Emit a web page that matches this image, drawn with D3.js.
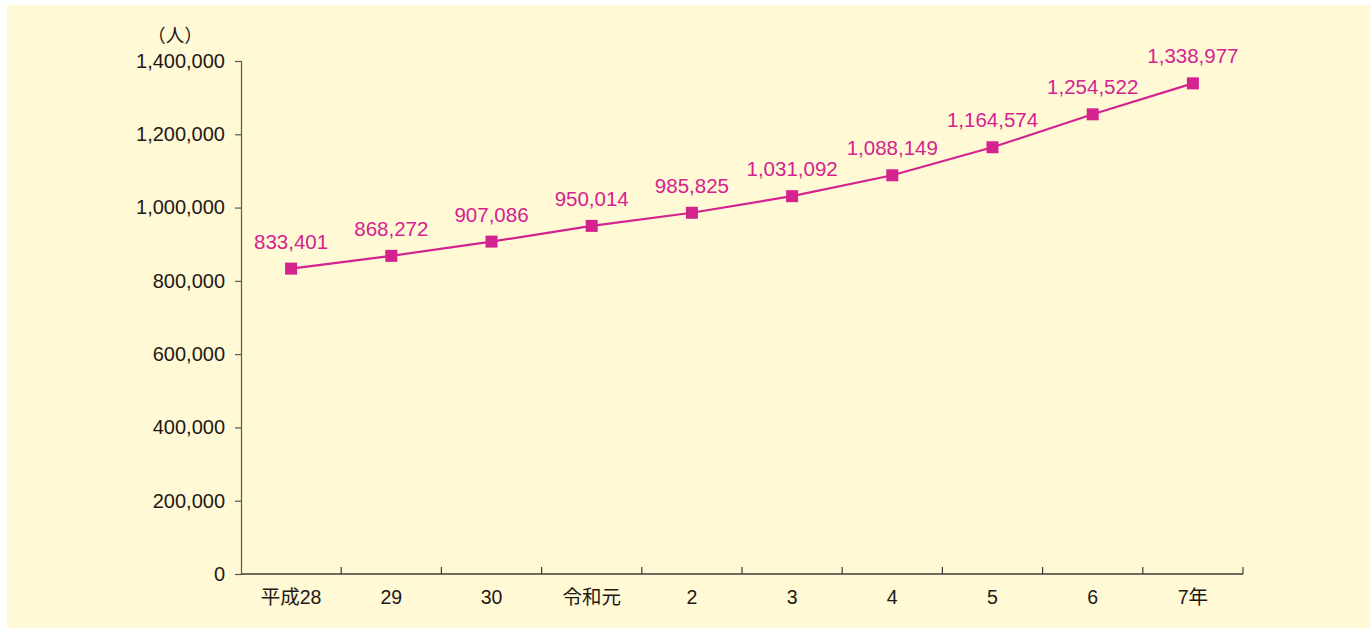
<!DOCTYPE html>
<html>
<head>
<meta charset="utf-8">
<script src="https://cdn.jsdelivr.net/npm/d3@7"></script>
<style>
  html, body { margin: 0; padding: 0; background: #ffffff; }
  svg { display: block; }
  text { font-family: "Liberation Sans", Arial, "Noto Sans CJK JP", sans-serif; }
</style>
</head>
<body>
<svg id="chart" width="1370" height="628"></svg>
<script>
// Fiscal years (Heisei 28 through Reiwa 7)
const years = ["平成28", "29", "30", "令和元", "2", "3", "4", "5", "6", "7年"];
// Number of people per year
const people = [833401, 868272, 907086, 950014, 985825, 1031092, 1088149, 1164574, 1254522, 1338977];
// Left axis ticks
const yTicks = [0, 200000, 400000, 600000, 800000, 1000000, 1200000, 1400000];

const svg = d3.select("#chart");
const W = 1370, H = 628;
const margin = { left: 241, right: 127, top: 61, bottom: 54 };
const accent = "#d4238f";
const ink = "#231815";

// cream panel
svg.append("rect").attr("x", 7).attr("y", 5).attr("width", W - 7).attr("height", H - 5)
  .attr("fill", "#fff9d6");

const x = d3.scaleBand().domain(years).range([margin.left, W - margin.right]).padding(0);
const y = d3.scaleLinear().domain([0, 1400000]).range([H - margin.bottom, margin.top]);

const fmt = d3.format(",");

// y axis
const yAxis = svg.append("g").attr("transform", `translate(${margin.left},0)`)
  .call(d3.axisLeft(y).tickValues(yTicks).tickFormat(fmt).tickSize(6).tickPadding(10));
yAxis.select(".domain").attr("stroke", "#595757").attr("stroke-width", 1.2);
yAxis.selectAll(".tick line").attr("stroke", "#595757").attr("stroke-width", 1.2);
yAxis.selectAll(".tick text").attr("fill", ink).attr("font-size", 20);

// x axis: baseline with upward ticks at band boundaries
const xg = svg.append("g");
const y0 = y(0);
xg.append("line").attr("x1", margin.left).attr("x2", W - margin.right)
  .attr("y1", y0).attr("y2", y0).attr("stroke", "#3e3a39").attr("stroke-width", 1.4);
const bounds = years.map(d => x(d) + x.bandwidth());
xg.selectAll("line.tk").data(bounds).join("line").attr("class", "tk")
  .attr("x1", d => d).attr("x2", d => d).attr("y1", y0).attr("y2", y0 - 7)
  .attr("stroke", "#3e3a39").attr("stroke-width", 1.2);
xg.selectAll("text").data(years).join("text")
  .attr("x", d => x(d) + x.bandwidth() / 2).attr("y", y0 + 30)
  .attr("text-anchor", "middle").attr("fill", ink).attr("font-size", 19.5)
  .text(d => d);

// unit label
svg.append("text").attr("x", 175).attr("y", 42).attr("text-anchor", "middle")
  .attr("fill", ink).attr("font-size", 18.5).text("（人）");

// series line
const cx = d => x(d) + x.bandwidth() / 2;
const line = d3.line().x((d, i) => cx(years[i])).y(d => y(d));
svg.append("path").datum(people).attr("d", line)
  .attr("fill", "none").attr("stroke", accent).attr("stroke-width", 2.2);

// markers
svg.selectAll("rect.pt").data(people).join("rect").attr("class", "pt")
  .attr("x", (d, i) => cx(years[i]) - 6).attr("y", d => y(d) - 6)
  .attr("width", 12).attr("height", 12).attr("fill", accent);

// value labels
svg.selectAll("text.val").data(people).join("text").attr("class", "val")
  .attr("x", (d, i) => cx(years[i])).attr("y", d => y(d) - 20)
  .attr("text-anchor", "middle").attr("fill", accent).attr("font-size", 20.5)
  .text(d => fmt(d));
</script>
</body>
</html>
